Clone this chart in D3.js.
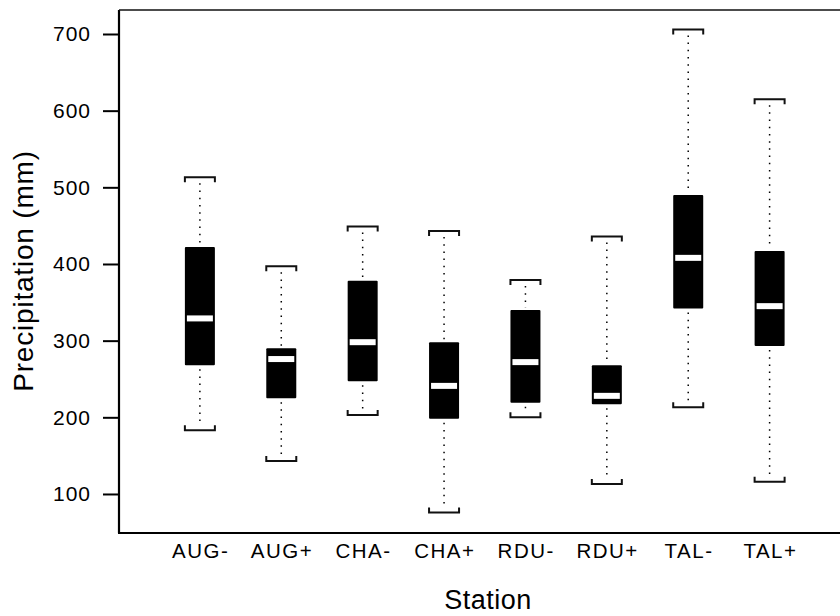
<!DOCTYPE html>
<html>
<head>
<meta charset="utf-8">
<script src="https://cdn.jsdelivr.net/npm/d3@7"></script>
<style>
  html, body { margin: 0; padding: 0; background: #fff; }
  svg { display: block; }
  text { font-family: "Liberation Sans", Arial, Helvetica, sans-serif; fill: #000; }
</style>
</head>
<body>
<svg id="chart" width="840" height="616"></svg>
<script>
// ---- data ----
const stations   = ["AUG-", "AUG+", "CHA-", "CHA+", "RDU-", "RDU+", "TAL-", "TAL+"];
const whiskerLow = [183, 143, 203, 76, 200, 113, 213, 116];
const q1         = [268, 225, 247, 198, 219, 217, 342, 293];
const median     = [329, 276, 298, 241, 272, 228, 408, 345];
const q3         = [422, 290, 378, 298, 340, 268, 490, 417];
const whiskerHigh= [513, 397, 449, 443, 379, 436, 706, 615];
const yTicks     = [100, 200, 300, 400, 500, 600, 700];

const svg = d3.select("#chart");

const x = d3.scalePoint().domain(stations).range([118.5, 851]).padding(1);
const y = d3.scaleLinear().domain([49.1, 731.3]).range([533, 10]);

const boxW = 30, medW = 26, medH = 6, capW = 30, hook = 5;

// frame: left, top, bottom
svg.append("line").attr("x1", 119).attr("x2", 119).attr("y1", 10).attr("y2", 533)
  .attr("stroke", "#000").attr("stroke-width", 2.2);
svg.append("line").attr("x1", 119).attr("x2", 840).attr("y1", 10).attr("y2", 10)
  .attr("stroke", "#111").attr("stroke-width", 1.6);
svg.append("line").attr("x1", 118).attr("x2", 840).attr("y1", 533).attr("y2", 533)
  .attr("stroke", "#000").attr("stroke-width", 2.2);

// y axis ticks
const yAxis = d3.axisLeft(y).tickValues(yTicks).tickSize(16).tickPadding(12).tickFormat(d3.format("d"));
const gy = svg.append("g").attr("transform", "translate(119,0)").call(yAxis);
gy.select(".domain").remove();
gy.selectAll(".tick line").attr("stroke", "#000").attr("stroke-width", 2);
gy.selectAll(".tick text")
  .style("font-family", "'Liberation Sans', Arial, sans-serif")
  .style("font-size", "21px").style("letter-spacing", "1px").attr("fill", "#000");

// x labels
svg.append("g").selectAll("text").data(stations).join("text")
  .attr("x", d => x(d) + 0.8).attr("y", 558)
  .attr("text-anchor", "middle")
  .style("font-size", "20.5px").style("letter-spacing", "1.5px")
  .text(d => d);

// boxes
const g = svg.append("g");
stations.forEach((s, i) => {
  const cx = x(s);
  // whiskers (dotted)
  g.append("line").attr("x1", cx).attr("x2", cx)
    .attr("y1", y(whiskerHigh[i]) + 6).attr("y2", y(q3[i]) - 2)
    .attr("stroke", "#000").attr("stroke-width", 1.5).attr("stroke-dasharray", "1.5,5.7");
  g.append("line").attr("x1", cx).attr("x2", cx)
    .attr("y1", y(q1[i]) + 4).attr("y2", y(whiskerLow[i]) - 5)
    .attr("stroke", "#000").attr("stroke-width", 1.5).attr("stroke-dasharray", "1.5,5.7");
  // caps (brackets)
  const yt = y(whiskerHigh[i]), yb = y(whiskerLow[i]);
  g.append("path")
    .attr("d", `M${cx - capW/2},${yt + hook}V${yt}H${cx + capW/2}V${yt + hook}`)
    .attr("fill", "none").attr("stroke", "#111").attr("stroke-width", 2);
  g.append("path")
    .attr("d", `M${cx - capW/2},${yb - hook}V${yb}H${cx + capW/2}V${yb - hook}`)
    .attr("fill", "none").attr("stroke", "#111").attr("stroke-width", 2);
  // box
  g.append("rect").attr("x", cx - boxW/2).attr("y", y(q3[i]))
    .attr("width", boxW).attr("height", y(q1[i]) - y(q3[i]))
    .attr("rx", 1).attr("fill", "#000");
  // median
  g.append("rect").attr("x", cx - medW/2).attr("y", y(median[i]) - medH/2)
    .attr("width", medW).attr("height", medH).attr("fill", "#fff");
});

// axis titles
svg.append("text").attr("x", 488).attr("y", 609)
  .attr("text-anchor", "middle").style("font-size", "27px").style("letter-spacing", "0.5px")
  .text("Station");
svg.append("text").attr("transform", "translate(33,271) rotate(-90)")
  .attr("text-anchor", "middle").style("font-size", "28px").style("letter-spacing", "0.8px")
  .text("Precipitation (mm)");
</script>
</body>
</html>
